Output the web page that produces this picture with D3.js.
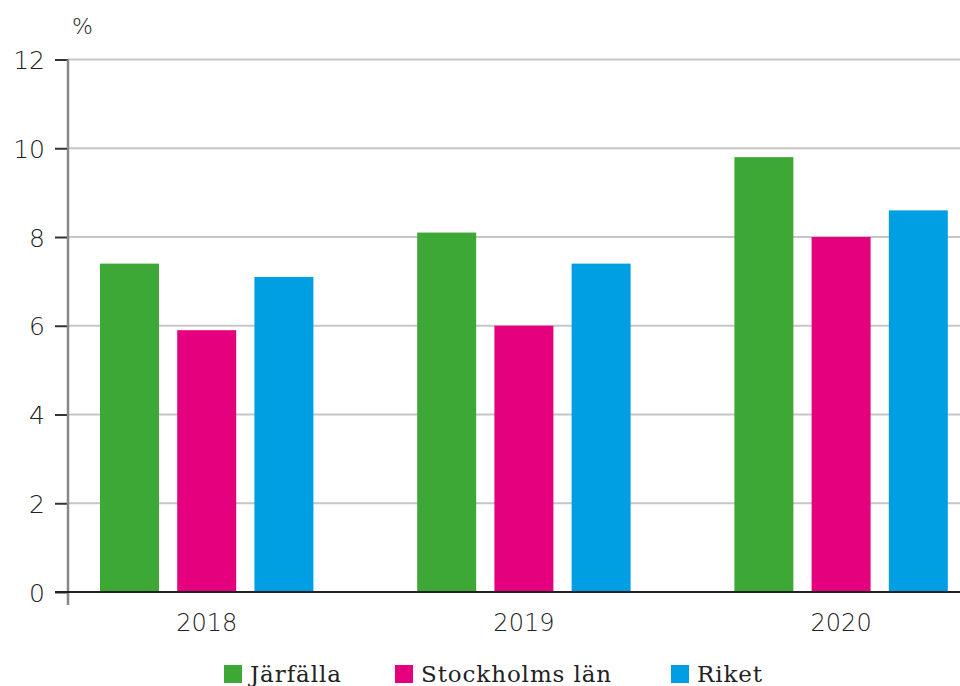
<!DOCTYPE html>
<html>
<head>
<meta charset="utf-8">
<script src="https://cdn.jsdelivr.net/npm/d3@7"></script>
<style>
  html, body { margin: 0; padding: 0; background: #fff; }
  svg { display: block; }
</style>
</head>
<body>
<svg id="chart" width="960" height="686"></svg>
<script>
const years = ["2018", "2019", "2020"];
const seriesNames = ["Järfälla", "Stockholms län", "Riket"];
const jarfalla = [7.4, 8.1, 9.8];
const stockholm = [5.9, 6.0, 8.0];
const riket = [7.1, 7.4, 8.6];
const yTicks = [0, 2, 4, 6, 8, 10, 12];
const unitLabel = "%";
const colors = ["#3ea836", "#e5007e", "#009fe3"];

const seriesValues = [jarfalla, stockholm, riket];
const data = years.map((y, i) => ({
  year: y,
  values: seriesNames.map((s, j) => ({ key: s, value: seriesValues[j][i], color: colors[j] }))
}));

const svg = d3.select("#chart");
const axisX = 68, plotRight = 960;

const x0 = d3.scaleBand().domain(years).range([48.1, 999.7]).padding(0);
const x1 = d3.scaleBand().domain(seriesNames).range([0, x0.bandwidth()])
  .paddingInner(0.236).paddingOuter(0.672);
const y = d3.scaleLinear().domain([0, 12]).range([592, 59.5]);

// gridlines
svg.append("g").selectAll("line").data(yTicks.filter(d => d > 0)).join("line")
  .attr("x1", axisX).attr("x2", plotRight)
  .attr("y1", d => y(d)).attr("y2", d => y(d))
  .attr("stroke", "#c6c6c6").attr("stroke-width", 2);

// bars
const groups = svg.append("g").selectAll("g").data(data).join("g")
  .attr("transform", d => `translate(${x0(d.year)},0)`);
groups.selectAll("rect").data(d => d.values).join("rect")
  .attr("x", d => x1(d.key))
  .attr("width", x1.bandwidth())
  .attr("y", d => y(d.value))
  .attr("height", d => y(0) - y(d.value))
  .attr("fill", d => d.color);

// y axis
const yAxis = d3.axisLeft(y).tickValues(yTicks).tickSize(13).tickPadding(10).tickFormat(d3.format("d"));
const gy = svg.append("g").attr("transform", `translate(${axisX},0)`).call(yAxis);
gy.select(".domain").remove();
gy.selectAll(".tick line").attr("stroke", "#333").attr("stroke-width", 2);
gy.selectAll(".tick text")
  .attr("font-family", "'DejaVu Sans', sans-serif").attr("font-size", 25).attr("font-weight", 300)
  .attr("fill", "#222").attr("dy", "0.36em");
svg.append("line").attr("x1", axisX).attr("x2", axisX).attr("y1", y(12)).attr("y2", 605)
  .attr("stroke", "#888").attr("stroke-width", 2.5);

// x axis
const xAxis = d3.axisBottom(x0).tickSize(0).tickPadding(22);
const gx = svg.append("g").attr("transform", `translate(0,${y(0)})`).call(xAxis);
gx.select(".domain").remove();
gx.selectAll(".tick text")
  .attr("font-family", "'DejaVu Sans', sans-serif").attr("font-size", 24).attr("font-weight", 300)
  .attr("fill", "#222");
svg.append("line").attr("x1", 55).attr("x2", plotRight).attr("y1", y(0)).attr("y2", y(0))
  .attr("stroke", "#222").attr("stroke-width", 2);

// unit label
svg.append("text").attr("x", 72).attr("y", 34).text(unitLabel)
  .attr("font-family", "'DejaVu Sans', sans-serif").attr("font-size", 22).attr("font-weight", 300)
  .attr("fill", "#222");

// legend
const legendX = [224, 395, 671];
const lg = svg.append("g").selectAll("g").data(seriesNames).join("g")
  .attr("transform", (d, i) => `translate(${legendX[i]},665)`);
lg.append("rect").attr("width", 18).attr("height", 18).attr("fill", (d, i) => colors[i]);
lg.append("text").attr("x", 26).attr("y", 17).text(d => d)
  .attr("font-family", "'DejaVu Serif', serif").attr("font-size", 23)
  .attr("letter-spacing", 0.9)
  .attr("fill", "#222");
</script>
</body>
</html>
